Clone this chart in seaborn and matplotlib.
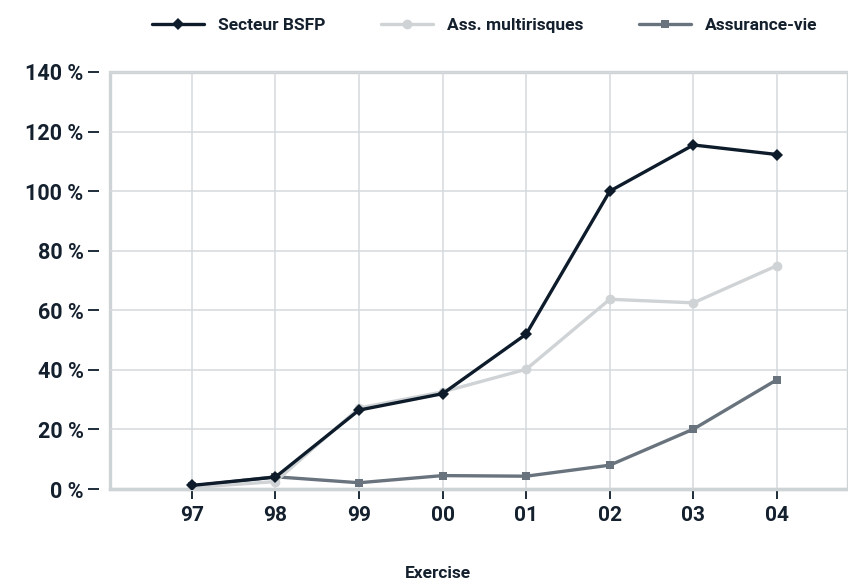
import matplotlib
matplotlib.use("Agg")
import matplotlib.pyplot as plt
import seaborn as sns
import pandas as pd

# Exercise years (two-digit labels) and growth in percent per series
years = ["97", "98", "99", "00", "01", "02", "03", "04"]
secteur_bsfp = [1.2, 4.0, 26.5, 32.0, 52.0, 100.0, 115.5, 112.3]
ass_multirisques = [0.5, 2.5, 27.2, 32.6, 40.2, 63.7, 62.5, 75.0]
assurance_vie = [1.0, 4.1, 2.1, 4.5, 4.3, 8.0, 20.1, 36.7]
series_names = ["Secteur BSFP", "Ass. multirisques", "Assurance-vie"]
y_ticks = [0, 20, 40, 60, 80, 100, 120, 140]

DARK = "#0d1b2a"
LIGHT = "#cfd3d5"
SLATE = "#68737d"
TEXT = "#14202e"
GRID = "#d6dadc"
FRAME = "#ced3d5"

sns.set_theme(style="white")
plt.rcParams["font.family"] = ["Roboto", "DejaVu Sans"]
plt.rcParams["font.weight"] = "bold"

df = pd.concat([
    pd.DataFrame({"Exercise": years, "value": vals, "serie": name})
    for name, vals in zip(series_names, [secteur_bsfp, ass_multirisques, assurance_vie])
])
df["pos"] = df["Exercise"].map({y: i for i, y in enumerate(years)})

fig = plt.figure(figsize=(8.48, 5.84), dpi=100)
ax = fig.add_axes([110 / 848, 95 / 584, 738 / 848, 417 / 584])

palette = {"Secteur BSFP": DARK, "Ass. multirisques": LIGHT, "Assurance-vie": SLATE}
markers = {"Secteur BSFP": "D", "Ass. multirisques": "o", "Assurance-vie": "s"}
sizes = {"Secteur BSFP": 6, "Ass. multirisques": 7, "Assurance-vie": 6}
zorders = {"Secteur BSFP": 5, "Ass. multirisques": 4, "Assurance-vie": 3}

for name in ["Assurance-vie", "Ass. multirisques", "Secteur BSFP"]:
    sub = df[df["serie"] == name]
    sns.lineplot(data=sub, x="pos", y="value", ax=ax, color=palette[name],
                 marker=markers[name], markersize=sizes[name],
                 markeredgewidth=0, linewidth=2.4, label=name,
                 zorder=zorders[name], sort=False)

ax.set_xlim(-0.98, 7.85)
ax.set_ylim(0, 140)
ax.set_xticks(range(len(years)))
ax.set_xticklabels(years)
ax.set_yticks(y_ticks)
ax.set_yticklabels([f"{v} %" for v in y_ticks])
ax.set_xlabel("")
ax.set_ylabel("")

ax.grid(True, color=GRID, linewidth=1.1)
ax.set_axisbelow(True)

# frame drawn by the axes patch; left spine pushed outward to carry detached ticks
ax.patch.set_edgecolor(FRAME)
ax.patch.set_linewidth(2.4)
for s in ["top", "right"]:
    ax.spines[s].set_visible(False)
ax.spines["left"].set_position(("outward", 8))
ax.spines["left"].set_visible(True)
ax.spines["left"].set_color("none")
ax.spines["bottom"].set_color(FRAME)
ax.spines["bottom"].set_linewidth(2.4)

ax.tick_params(axis="y", which="major", left=True, length=8, width=1.3,
               color=DARK, pad=3, labelsize=15.5, labelcolor=TEXT)
ax.tick_params(axis="x", which="major", bottom=True, length=7, width=1.3,
               color=DARK, pad=5, labelsize=15, labelcolor=TEXT)
for lab in ax.get_xticklabels() + ax.get_yticklabels():
    lab.set_fontweight("bold")

handles, labels = ax.get_legend_handles_labels()
order = [labels.index(n) for n in series_names]
ax.legend([handles[i] for i in order], [labels[i] for i in order],
          loc="center", bbox_to_anchor=(485 / 848, 1 - 25 / 584),
          bbox_transform=fig.transFigure, ncol=3, frameon=False,
          handlelength=3.0, handletextpad=0.8, columnspacing=3.2,
          prop={"weight": "bold", "size": 12.5})
for t in ax.get_legend().get_texts():
    t.set_color(TEXT)

fig.text(438 / 848, 1 - 573 / 584, "Exercise", ha="center", va="center",
         fontsize=12.5, fontweight="bold", color=TEXT)

fig.savefig("out.png", dpi=100)
